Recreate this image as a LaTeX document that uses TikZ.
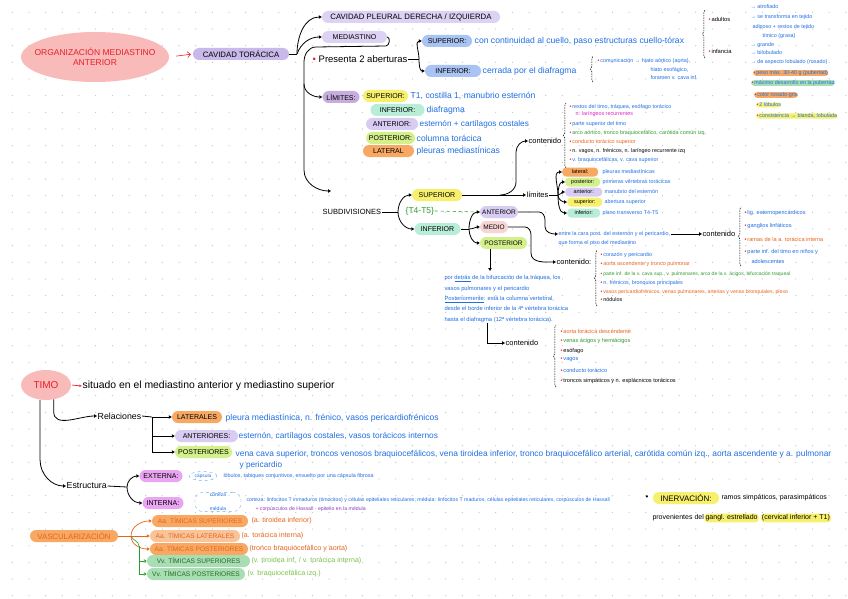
\documentclass[tikz,border=0pt]{standalone}
\usepackage{fontspec}
\setmainfont{Liberation Sans}
\usetikzlibrary{arrows.meta,shapes.geometric,decorations.pathreplacing,calc}
\definecolor{redT}{HTML}{E8202A}
\definecolor{pinkB}{HTML}{F9BABA}
\definecolor{purpB}{HTML}{C9B8EA}
\definecolor{purpL}{HTML}{DDD2F3}
\definecolor{purpM}{HTML}{C6ADDE}
\definecolor{blueB}{HTML}{A9C3F2}
\definecolor{blueT}{HTML}{1F6FE3}
\definecolor{yelB}{HTML}{F7F06C}
\definecolor{mintB}{HTML}{B8EDD8}
\definecolor{lavB}{HTML}{D9CCF3}
\definecolor{limeB}{HTML}{D3F08C}
\definecolor{oraB}{HTML}{F7A862}
\definecolor{oraL}{HTML}{F9C49A}
\definecolor{oraT}{HTML}{E8641C}
\definecolor{magB}{HTML}{E9A4F2}
\definecolor{greB}{HTML}{A9DDB4}
\definecolor{greT}{HTML}{2E9B2E}
\definecolor{greL}{HTML}{7BC24A}
\definecolor{magT}{HTML}{E024C8}
\definecolor{purT}{HTML}{8C3CC4}
\definecolor{medB}{HTML}{F9D4D4}
\definecolor{dotC}{HTML}{C4C4C4}
\newcommand\rb{\textcolor{redT}{\textbullet}\hspace{1pt}}
\tikzset{
 conn/.style={line width=0.8pt,-{Triangle[open,length=3pt,width=3.4pt]}},
 plain/.style={line width=0.8pt},
 pill/.style={rounded corners=6pt, inner xsep=1.5pt, inner ysep=1.5pt, minimum height=12pt, font=\fontsize{7}{8}\selectfont},
 spill/.style={rounded corners=4pt, inner xsep=1pt, inner ysep=0.8pt, minimum height=9pt, anchor=west, font=\fontsize{5.5}{6}\selectfont},
 bt/.style={anchor=west, inner sep=0.5pt, text=blueT, font=\fontsize{8.6}{9}\selectfont},
 tx/.style={anchor=west, inner sep=0.5pt, font=\fontsize{7.5}{9}\selectfont},
 tiny/.style={anchor=west, inner sep=0.3pt, font=\fontsize{5.4}{6}\selectfont},
 brc/.style={decorate, decoration={brace, amplitude=2.5pt}, line width=0.5pt, dash pattern=on 1.5pt off 1pt},
 hl/.style={rounded corners=3pt, inner xsep=1pt, inner ysep=1pt, anchor=west, fill=yelB},
}
\begin{document}
\begin{tikzpicture}[x=1pt,y=-1pt]
\fill[white] (0,0) rectangle (848,599);
\useasboundingbox (0,0) rectangle (848,599);
\foreach \i in {0,...,50}{\foreach \j in {0,...,35}{\fill[dotC] (12.3+16.67*\i,12.3+16.67*\j) circle (0.65pt);}}

% ===== top =====
\node[ellipse, fill=pinkB, minimum width=148pt, minimum height=50pt, inner sep=0pt] (org) at (95,57) {};
\node[align=center, inner sep=0pt, text=redT, font=\fontsize{8.5}{10}\selectfont] (orgT) at (org.center) {ORGANIZACIÓN MEDIASTINO\\ANTERIOR};
\node[pill, fill=purpB, minimum width=96pt, font=\fontsize{7.8}{8}\selectfont] (cavt) at (241,54) {CAVIDAD TORÁCICA};
\draw[redT, line width=0.6pt, -{Straight Barb[length=3pt]}, shorten <=7pt, shorten >=2pt] (org.east) -- (cavt.west);

\node[pill, fill=purpL, minimum width=178pt, font=\fontsize{7.8}{8}\selectfont] (pleu) at (411,17) {CAVIDAD PLEURAL DERECHA / IZQUIERDA};
\node[pill, fill=purpL, minimum width=65pt] (med) at (354.5,37) {MEDIASTINO};
\coordinate (j1) at (297,54);
\draw[plain] (cavt.east) -- (j1);
\draw[conn] (j1) to[out=90,in=180] (pleu.west);
\draw[conn] (j1) to[out=70,in=180] (med.west);

\node[anchor=west, inner sep=0.5pt, font=\fontsize{9.5}{10}\selectfont] (pres) at (312,59) {\textcolor{redT}{\textbullet}\ Presenta 2 aberturas};
\node[pill, fill=blueB, minimum width=50pt] (supA) at (447,41) {SUPERIOR:};
\node[pill, fill=blueB, minimum width=56pt] (infA) at (453,71) {INFERIOR:};
\coordinate (bj) at (419,59);
\draw[plain] (pres.east) -- (bj);
\draw[conn] (bj) to[out=90,in=180] (supA.west);
\draw[conn] (bj) to[out=-90,in=180] (infA.west);
\node[bt] (supAt) at (474,41) {con continuidad al cuello, paso estructuras cuello-tórax};
\node[bt] (infAt) at (482,71) {cerrada por el diafragma};

\draw[brc] (593,82) -- (593,56);
\node[tiny, text=blueT] (com1) at (597,61) {\rb comunicación → hiato aórtico (aorta),};
\node[tiny, text=blueT] (com2) at (650,70) {hiato esofágico,};
\node[tiny, text=blueT] (com3) at (650,78) {foramen v. cava inf.};

\draw[brc] (705,58) -- (705,10);
\node[tiny, font=\fontsize{5.8}{6}\selectfont] (adul) at (708,19) {\rb adultos};
\node[tiny, font=\fontsize{5.8}{6}\selectfont] (infa) at (708,51) {\rb infancia};
\node[tiny, text=blueT] (a1) at (750,7) {→ atrofiado};
\node[tiny, text=blueT] (a2) at (750,17) {→ se transforma en tejido};
\node[tiny, text=blueT] (a3) at (752,27) {adiposo + restos de tejido};
\node[tiny, text=blueT] (a4) at (762,36) {tímico (grasa)};
\node[tiny, text=blueT] (b1) at (750,45) {→ grande};
\node[tiny, text=blueT] (b2) at (750,53) {→ bilobulado};
\node[tiny, text=blueT] (b3) at (750,62) {→ de aspecto lobulado (rosado)};
\node[hl, fill=oraB, tiny, text=blueT] (h1) at (753,73) {\rb peso máx. 30-40 g (pubertad)};
\node[hl, fill=greB, tiny, text=blueT] (h2) at (751,83) {\rb máximo desarrollo en la pubertad};
\node[hl, fill=oraB, tiny, text=blueT] (h3) at (754,95) {\rb color rosado-gris};
\node[hl, tiny, text=blueT] (h4) at (756,105) {\rb 2 lóbulos};
\node[hl, tiny, text=blueT] (h5) at (756,116) {\rb consistencia → blanda, lobulada};

% ===== limites =====
\node[pill, fill=purpM, minimum width=37pt] (lim) at (341,97) {LÍMITES:};
\node[pill, fill=yelB, minimum width=45pt] (limS) at (385.5,96) {SUPERIOR:};
\node[bt] (limSt) at (410,96) {T1, costilla 1, manubrio esternón};
\node[pill, fill=mintB, minimum width=54pt] (limI) at (397.5,110) {INFERIOR:};
\node[bt] (limIt) at (426,110) {diafragma};
\node[pill, fill=lavB, minimum width=52pt] (limA) at (392,124) {ANTERIOR:};
\node[bt, font=\fontsize{8.2}{9}\selectfont] (limAt) at (419,124) {esternón + cartílagos costales};
\node[pill, fill=limeB, minimum width=49pt] (limP) at (390.5,138) {POSTERIOR:};
\node[bt] (limPt) at (416,138) {columna torácica};
\node[pill, fill=oraB, minimum width=51pt] (limL) at (388.5,151) {LATERAL};
\node[bt] (limLt) at (416,151) {pleuras mediastínicas};

\coordinate (mc) at (386,46);
\coordinate (mk) at (316,47);
\coordinate (mtop) at (304,62);
\coordinate (mlim) at (304,84);
\coordinate (msub) at (304,170);
\coordinate (sa) at (331,191);
\draw[plain] (med.east) to[out=0,in=0] (mc) -- (mk) to[out=180,in=90] (mtop) -- (mlim);
\draw[conn] (mlim) to[out=-90,in=180] (lim.west);
\draw[conn] (mlim) -- (msub) to[out=-90,in=180] (sa);

% ===== subdivisiones =====
\node[tx] (subd) at (322,212) {SUBDIVISIONES};
\node[pill, fill=yelB, minimum width=50pt] (subS) at (437,195) {SUPERIOR};
\node[pill, fill=mintB, minimum width=46pt] (subI) at (437.5,229) {INFERIOR};
\coordinate (sj) at (398,212);
\draw[plain] (subd.east) -- (sj);
\draw[conn] (sj) to[out=90,in=180] (subS.west);
\draw[conn] (sj) to[out=-90,in=180] (subI.west);

\node[pill, fill=lavB, minimum width=38pt, font=\fontsize{6.5}{7}\selectfont] (subAnt) at (499,212) {ANTERIOR};
\node[pill, fill=medB, minimum width=28pt, font=\fontsize{6.5}{7}\selectfont] (subMed) at (494,227) {MEDIO};
\node[pill, fill=limeB, minimum width=47pt, font=\fontsize{6.5}{7}\selectfont] (subPos) at (503.5,243) {POSTERIOR};
\node[anchor=west, inner sep=0.5pt, text=greT, font=\fontsize{8.5}{9}\selectfont] (t45) at (405,211) {\{T4-T5\}};
\draw[greT, dashed, line width=0.6pt] (t45.east) -- (subAnt.west);

\coordinate (ij) at (469,229);
\draw[plain] (subI.east) -- (ij);
\draw[conn] (ij) to[out=90,in=180] (subAnt.west);
\draw[conn] (ij) to[out=0,in=180] (subMed.west);
\draw[conn] (ij) to[out=-90,in=180] (subPos.west);

% superior: limites + contenido
\node[tx] (lim2) at (526,195) {límites};
\draw[conn] (subS.east) -- (lim2.west);
\node[tx] (cont1) at (528,141) {contenido};
\coordinate (cj) at (500,195);
\coordinate (cj2) at (516,182);
\coordinate (cj3) at (516,152);
\draw[conn] (cj) to[out=0,in=-90] (cj2) -- (cj3) to[out=90,in=180] (cont1.west);

\draw[brc] (566,168) -- (566,103);
\node[tiny, text=blueT] (c1a) at (569,107) {\rb restos del timo, tráquea, esófago torácico};
\node[tiny, text=magT] (c1b) at (575,114) {n. laríngeos recurrentes};
\node[tiny, text=blueT] (c1c) at (569,124) {\rb parte superior del timo};
\node[tiny, text=greT] (c1d) at (569,133) {\rb arco aórtico, tronco braquiocefálico, carótida común izq.};
\node[tiny, text=oraT] (c1e) at (569,142) {\rb conducto torácico superior};
\node[tiny] (c1f) at (569,151) {\rb n. vagos, n. frénicos, n. laríngeo recurrente izq};
\node[tiny, text=blueT] (c1g) at (569,160) {\rb v. braquiocefálicas, v. cava superior};

\node[spill, fill=oraB, minimum width=36pt] (l2L) at (562,172) {lateral:};
\node[spill, fill=limeB, minimum width=35pt] (l2P) at (565,182) {posterior:};
\node[spill, fill=lavB, minimum width=37pt] (l2A) at (565,192) {anterior:};
\node[spill, fill=yelB, minimum width=35pt] (l2S) at (567,202) {superior:};
\node[spill, fill=mintB, minimum width=33pt] (l2I) at (567,213) {inferior:};
\coordinate (fj) at (558,195);
\draw[plain] (lim2.east) -- (fj);
\draw[conn] (fj) to[out=90,in=180] (l2L.west);
\draw[conn] (fj) to[out=90,in=180] (l2P.west);
\draw[conn] (fj) to[out=0,in=180] (l2A.west);
\draw[conn] (fj) to[out=-90,in=180] (l2S.west);
\draw[conn] (fj) to[out=-90,in=180] (l2I.west);
\node[tiny, text=blueT] (l2Lt) at (602,172) {pleuras mediastínicas};
\node[tiny, text=blueT] (l2Pt) at (602,182) {primeras vértebras torácicas};
\node[tiny, text=blueT] (l2At) at (604,192) {manubrio del esternón};
\node[tiny, text=blueT] (l2St) at (604,202) {abertura superior};
\node[tiny, text=blueT] (l2It) at (602,213) {plano transverso T4-T5};

% inferior anterior
\node[tiny, text=blueT] (antT1) at (558,234) {entre la cara post. del esternón y el pericardio,};
\node[tiny, text=blueT] (antT2) at (558,243) {que forma el piso del mediastino};
\coordinate (aj1) at (539,212);
\coordinate (aj2) at (545,220);
\coordinate (aj3) at (545,227);
\draw[conn] (subAnt.east) -- (aj1) to[out=0,in=90] (aj2) -- (aj3) to[out=-90,in=180] (antT1.west);
\node[tx] (cont2) at (702,234) {contenido};
\draw[conn] (antT1.east) -- (cont2.west);
\draw[brc] (741,266) -- (741,207);
\node[tiny, text=blueT, font=\fontsize{5.6}{6}\selectfont] (c2a) at (744,213) {\rb lig. esternopericárdicos};
\node[tiny, text=blueT, font=\fontsize{5.6}{6}\selectfont] (c2b) at (744,226) {\rb ganglios linfáticos};
\node[tiny, text=oraT, font=\fontsize{5.6}{6}\selectfont] (c2c) at (744,239) {\rb ramas de la a. torácica interna};
\node[tiny, text=blueT, font=\fontsize{5.6}{6}\selectfont] (c2d) at (744,252) {\rb parte inf. del timo en niños y};
\node[tiny, text=blueT, font=\fontsize{5.6}{6}\selectfont] (c2e) at (751,261) {adolescentes};

% inferior medio
\node[tx] (cont3) at (556,262) {contenido:};
\coordinate (mj1) at (525,227);
\coordinate (mj2) at (531,235);
\coordinate (mj3) at (531,253);
\draw[conn] (subMed.east) -- (mj1) to[out=0,in=90] (mj2) -- (mj3) to[out=-90,in=180] (cont3.west);
\draw[brc] (597,306) -- (597,250);
\node[tiny, text=blueT] (c3a) at (600,255) {\rb corazón y pericardio};
\node[tiny, text=oraT] (c3b) at (600,264) {\rb aorta ascendente y tronco pulmonar};
\node[tiny, text=greT, font=\fontsize{5}{6}\selectfont] (c3c) at (600,274) {\rb parte inf. de la v. cava sup., v. pulmonares, arco de la v. ácigos, bifurcación traqueal};
\node[tiny, text=blueT] (c3d) at (600,283) {\rb n. frénicos, bronquios principales};
\node[tiny, text=oraT, font=\fontsize{5.2}{6}\selectfont] (c3e) at (600,292) {\rb vasos pericardiofrénicos, venas pulmonares, arterias y venas bronquiales, plexo};
\node[tiny] (c3f) at (600,300) {\rb nódulos};

% inferior posterior
\coordinate (pd) at (490,271);
\draw[conn] (subPos.south -| pd) -- (pd);
\node[anchor=north west, inner sep=0.3pt, text=blueT, font=\fontsize{5.8}{10.4}\selectfont, align=left] (posT) at (444,275) {por \underline{detrás} de la bifurcación de la tráquea, los\\vasos pulmonares y el pericardio\\\underline{Posteriormente}: está la columna vertebral,\\desde el borde inferior de la 4ª vértebra torácica\\hasta el diafragma (12ª vértebra torácica).};
\coordinate (pc) at (487,329);
\node[tx] (cont4) at (505,343) {contenido};
\draw[conn] (posT.south -| pc) |- (cont4.west);
\draw[brc] (556,387) -- (556,325);
\node[tiny, text=oraT, font=\fontsize{5.6}{6}\selectfont] (c4a) at (560,331) {\rb aorta torácica descendente};
\node[tiny, text=greT, font=\fontsize{5.6}{6}\selectfont] (c4b) at (560,341) {\rb venas ácigos y hemiácigos};
\node[tiny, font=\fontsize{5.6}{6}\selectfont] (c4c) at (560,351) {\rb esófago};
\node[tiny, text=blueT, font=\fontsize{5.6}{6}\selectfont] (c4d) at (560,360) {\rb vagos};
\node[tiny, text=blueT, font=\fontsize{5.6}{6}\selectfont] (c4e) at (560,370) {\rb conducto torácico};
\node[tiny, font=\fontsize{5.6}{6}\selectfont] (c4f) at (560,381) {\rb troncos simpáticos y n. esplácnicos torácicos};

% ===== TIMO =====
\node[ellipse, fill=pinkB, minimum width=50pt, minimum height=30pt, inner sep=0pt, text=redT, font=\fontsize{10}{11}\selectfont] (timo) at (46,385) {TIMO};
\node[anchor=west, inner sep=0.5pt, font=\fontsize{10.4}{11}\selectfont] (sit) at (82,386) {situado en el mediastino anterior y mediastino superior};
\draw[redT, line width=0.7pt, -{Stealth[length=3pt]}, shorten <=1pt] (timo.east) -- (sit.west);

\node[anchor=west, inner sep=0.5pt, font=\fontsize{8.8}{9}\selectfont] (rel) at (97,416) {Relaciones};
\draw[conn] (timo.-62) -- ++(0,12) to[out=-90,in=180] (rel.west);
\node[pill, fill=oraB, minimum width=50pt] (relL) at (197,417) {LATERALES};
\node[pill, fill=lavB, minimum width=63pt] (relA) at (206.5,436) {ANTERIORES:};
\node[pill, fill=limeB, minimum width=57pt] (relP) at (203.5,452) {POSTERIORES};
\coordinate (rj) at (152,417);
\draw[plain] (rel.east) -- (rj);
\draw[conn] (rj) -- (relL.west);
\draw[conn] (rj) |- (relA.west);
\draw[conn] (rj) |- (relP.west);
\node[bt, font=\fontsize{8.6}{9}\selectfont] (relLt) at (225,418) {pleura mediastínica, n. frénico, vasos pericardiofrénicos};
\node[bt, font=\fontsize{8.3}{9}\selectfont] (relAt) at (238,436) {esternón, cartílagos costales, vasos torácicos internos};
\node[bt, font=\fontsize{8.4}{9}\selectfont] (relPt) at (235,454) {vena cava superior, troncos venosos braquiocefálicos, vena tiroidea inferior, tronco braquiocefálico arterial, carótida común izq., aorta ascendente y a. pulmonar};
\node[bt, font=\fontsize{8.2}{9}\selectfont] (relPt2) at (239,465) {y pericardio};

\node[anchor=west, inner sep=0.5pt, font=\fontsize{8.8}{9}\selectfont] (est) at (66,486) {Estructura};
\draw[conn] (timo.-112) -- ++(0,60) to[out=-90,in=180] (est.west);
\node[pill, fill=magB, minimum width=43pt] (ext) at (161,476) {EXTERNA:};
\node[pill, fill=magB, minimum width=41pt] (int) at (163,503) {INTERNA:};
\coordinate (ej) at (127,487);
\draw[plain] (est.east) -- (ej);
\draw[conn] (ej) to[out=90,in=180] (ext.west);
\draw[conn] (ej) to[out=-90,in=180] (int.west);
\node[ellipse, draw=blueT!60, dashed, inner sep=0.5pt, text=blueT, font=\fontsize{4.8}{5}\selectfont, minimum width=28pt, minimum height=9pt] (lob) at (203,476) {cápsula};
\node[tiny, text=blueT, font=\fontsize{5.4}{6}\selectfont] (extT) at (223,476) {lóbulos, tabiques conjuntivos, envuelto por una cápsula fibrosa};
\node[draw=blueT!60, dashed, rounded corners=8pt, align=center, text=blueT, font=\fontsize{5}{14}\selectfont, inner xsep=6pt, inner ysep=1pt, minimum width=46pt] (cm) at (218,502) {corteza\\médula};
\node[tiny, text=blueT, font=\fontsize{5.2}{6}\selectfont] (intT) at (246,500) {corteza: linfocitos T inmaduros (timocitos) y células epiteliales reticulares; médula: linfocitos T maduros, células epiteliales reticulares, corpúsculos de Hassall};
\node[tiny, text=purT, font=\fontsize{5.2}{6}\selectfont] (intT2) at (255,509) {+ corpúsculos de Hassall · epitelio en la médula};

\node[anchor=west, inner sep=0.5pt, font=\fontsize{8}{9}\selectfont] (bul) at (645,498) {\textbullet};
\node[pill, fill=yelB, minimum width=66pt, font=\fontsize{8}{9}\selectfont] (inerv) at (686,498) {INERVACIÓN:};
\node[tiny, font=\fontsize{7}{8}\selectfont] (inT1) at (721,498) {ramos simpáticos, parasimpáticos};
\node[tiny, font=\fontsize{7}{8}\selectfont] (inT2) at (652,518) {provenientes del};
\node[hl, font=\fontsize{7}{8}\selectfont] (gang) at (inT2.east) {gangl. estrellado};
\node[hl, font=\fontsize{7}{8}\selectfont] (gang2) at ([xshift=2pt]gang.east) {(cervical inferior + T1)};

% ===== vascularizacion =====
\node[pill, fill=oraB, text=oraT, minimum width=88pt, font=\fontsize{7.8}{8}\selectfont] (vasc) at (74,536) {VASCULARIZACIÓN};
\node[pill, fill=oraB, text=oraT, minimum width=96pt, font=\fontsize{6.6}{7}\selectfont] (va1) at (200,521) {Aa. TÍMICAS SUPERIORES};
\node[pill, fill=oraL, text=oraT, minimum width=90pt, font=\fontsize{6.6}{7}\selectfont] (va2) at (195,536) {Aa. TÍMICAS LATERALES};
\node[pill, fill=oraB, text=oraT, minimum width=98pt, font=\fontsize{6.6}{7}\selectfont] (va3) at (199,549) {Aa. TÍMICAS POSTERIORES};
\node[pill, fill=greB, text=greT!70!black, minimum width=103pt, font=\fontsize{6.6}{7}\selectfont] (vv1) at (198.5,561) {Vv. TÍMICAS SUPERIORES};
\node[pill, fill=greB, text=greT!70!black, minimum width=98pt, font=\fontsize{6.6}{7}\selectfont] (vv2) at (196,574) {Vv. TÍMICAS POSTERIORES};
\coordinate (vj) at (131,536);
\coordinate (vg) at (139,546);
\draw[plain, oraT, line width=0.7pt] (vasc.east) -- (vj);
\draw[conn, oraT, line width=0.7pt] (vj) to[out=90,in=180] (va1.west);
\draw[conn, oraT, line width=0.7pt] (vj) -- (va2.west);
\draw[conn, oraT, line width=0.7pt] (vj) to[out=-90,in=180] (va3.west);
\draw[plain, greT, line width=0.6pt] (vj) to[out=-70,in=90] (vg);
\draw[conn, greT, line width=0.6pt] (vg) |- (vv1.west);
\draw[conn, greT, line width=0.6pt] (vg) |- (vv2.west);
\node[tiny, text=oraT, font=\fontsize{7.1}{8}\selectfont] (va1t) at (251,521) {(a. tiroidea inferior)};
\node[tiny, text=oraT, font=\fontsize{7.1}{8}\selectfont] (va2t) at (241,536) {(a. torácica interna)};
\node[tiny, text=oraT, font=\fontsize{7.1}{8}\selectfont] (va3t) at (249,549) {(tronco braquiocefálico y aorta)};
\node[tiny, text=greL, font=\fontsize{7.1}{8}\selectfont] (vv1t) at (251,561) {(v. tiroidea inf. / v. torácica interna)};
\node[tiny, text=greL, font=\fontsize{7.1}{8}\selectfont] (vv2t) at (247,574) {(v. braquiocefálica izq.)};
\end{tikzpicture}
\end{document}
